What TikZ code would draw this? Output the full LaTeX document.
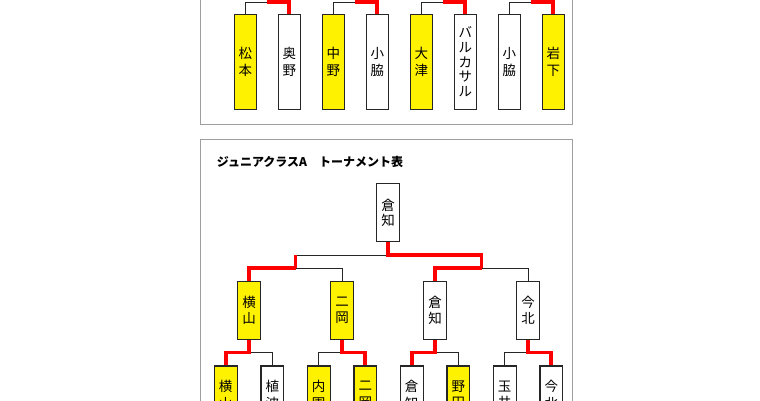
\documentclass[tikz,border=0pt]{standalone}
\usepackage{fontspec}
\newfontfamily\cjk{Noto Sans CJK JP}
\begin{document}
\begin{tikzpicture}[x=1pt,y=-1pt,
  box/.style={draw=black!85, line width=1.1pt, fill=white, minimum width=22pt, inner sep=0pt, align=center},
  win/.style={fill=yellow},
  tbox/.style={box, minimum height=94.7pt, font=\cjk\fontsize{13.5}{17}\selectfont},
  bbox/.style={box, minimum width=22.7pt, minimum height=57.6pt, font=\cjk\fontsize{13.5}{16.4}\selectfont},
  thinline/.style={draw=black!85, line width=1pt},
  winline/.style={draw=red, line width=3.8pt},
  panel/.style={draw=black!38, line width=0.9pt, fill=white}
]
\fill[white] (0,0) rectangle (760,400);
\useasboundingbox (0,0) rectangle (760,400);

% ---------- upper panel ----------
\draw[panel] (200,-10) rectangle (572,124);
\node[tbox,win] (t1) at (245.3,61.7) {松\\本};
\node[tbox]     (t2) at (289.3,61.7) {奥\\野};
\node[tbox,win] (t3) at (333.3,61.7) {中\\野};
\node[tbox]     (t4) at (377.3,61.7) {小\\脇};
\node[tbox,win] (t5) at (421.3,61.7) {大\\津};
\node[tbox, font=\cjk\fontsize{13.5}{14.8}\selectfont] (t6) at (465.3,61.7) {バ\\ル\\カ\\サ\\ル};
\node[tbox]     (t7) at (509.3,61.7) {小\\脇};
\node[tbox,win] (t8) at (553.3,61.7) {岩\\下};

\coordinate (m1) at (267.3,2);
\coordinate (m2) at (355.3,2);
\coordinate (m3) at (443.3,2);
\coordinate (m4) at (531.3,2);
\draw[thinline] (t1.north) |- (m1);
\draw[thinline] (t3.north) |- (m2);
\draw[thinline] (t5.north) |- (m3);
\draw[thinline] (t7.north) |- (m4);
\draw[winline] (m1) -| (t2.north);
\draw[winline] (m2) -| (t4.north);
\draw[winline] (m3) -| (t6.north);
\draw[winline] (m4) -| (t8.north);

% ---------- lower panel ----------
\draw[panel] (200.7,139.3) rectangle (572.3,420);
\node[anchor=west, inner sep=0pt, font=\cjk\bfseries\fontsize{12}{14}\selectfont] (title) at (216.7,161.7) {ジュニアクラスA　トーナメント表};

\node[bbox, minimum height=58.4pt, font=\cjk\fontsize{13.5}{15.2}\selectfont] (r) at (388,212.5) {倉\\知};

\node[bbox,win] (s1) at (249,310.5) {横\\山};
\node[bbox,win] (s2) at (342,310.5) {二\\岡};
\node[bbox]     (s3) at (435,310.5) {倉\\知};
\node[bbox]     (s4) at (528,310.5) {今\\北};

\node[bbox,win] (u1) at (225.7,394.8) {横\\山};
\node[bbox]     (u2) at (272.3,394.8) {植\\波};
\node[bbox,win] (u3) at (318.7,394.8) {内\\園};
\node[bbox,win] (u4) at (365.3,394.8) {二\\岡};
\node[bbox]     (u5) at (411.7,394.8) {倉\\知};
\node[bbox,win] (u6) at (458.3,394.8) {野\\田};
\node[bbox]     (u7) at (504.7,394.8) {玉\\井};
\node[bbox]     (u8) at (551.3,394.8) {今\\北};

% final
\coordinate (jt) at (388,255);
\coordinate (jl) at (295.5,268);
\coordinate (jr) at (481.5,268);
\draw[thinline] (jl) |- (jt);
\draw[thinline] (jl) -| (s2.north);
\draw[thinline] (jr) -| (s4.north);
\draw[winline] (r.south) -- (jt) -| (jr);
\draw[winline] (jl) -- (jl |- jt);
\draw[winline] (jl) -| (s1.north);
\draw[winline] (jr) -| (s3.north);

% first round
\coordinate (k1) at (249,352.5);
\coordinate (k2) at (342,352.5);
\coordinate (k3) at (435,352.5);
\coordinate (k4) at (528,352.5);
\draw[thinline] (k1) -| (u2.north);
\draw[thinline] (k2) -| (u3.north);
\draw[thinline] (k3) -| (u6.north);
\draw[thinline] (k4) -| (u7.north);
\draw[winline] (s1.south) -- (k1) -| (u1.north);
\draw[winline] (s2.south) -- (k2) -| (u4.north);
\draw[winline] (s3.south) -- (k3) -| (u5.north);
\draw[winline] (s4.south) -- (k4) -| (u8.north);
\end{tikzpicture}
\end{document}
